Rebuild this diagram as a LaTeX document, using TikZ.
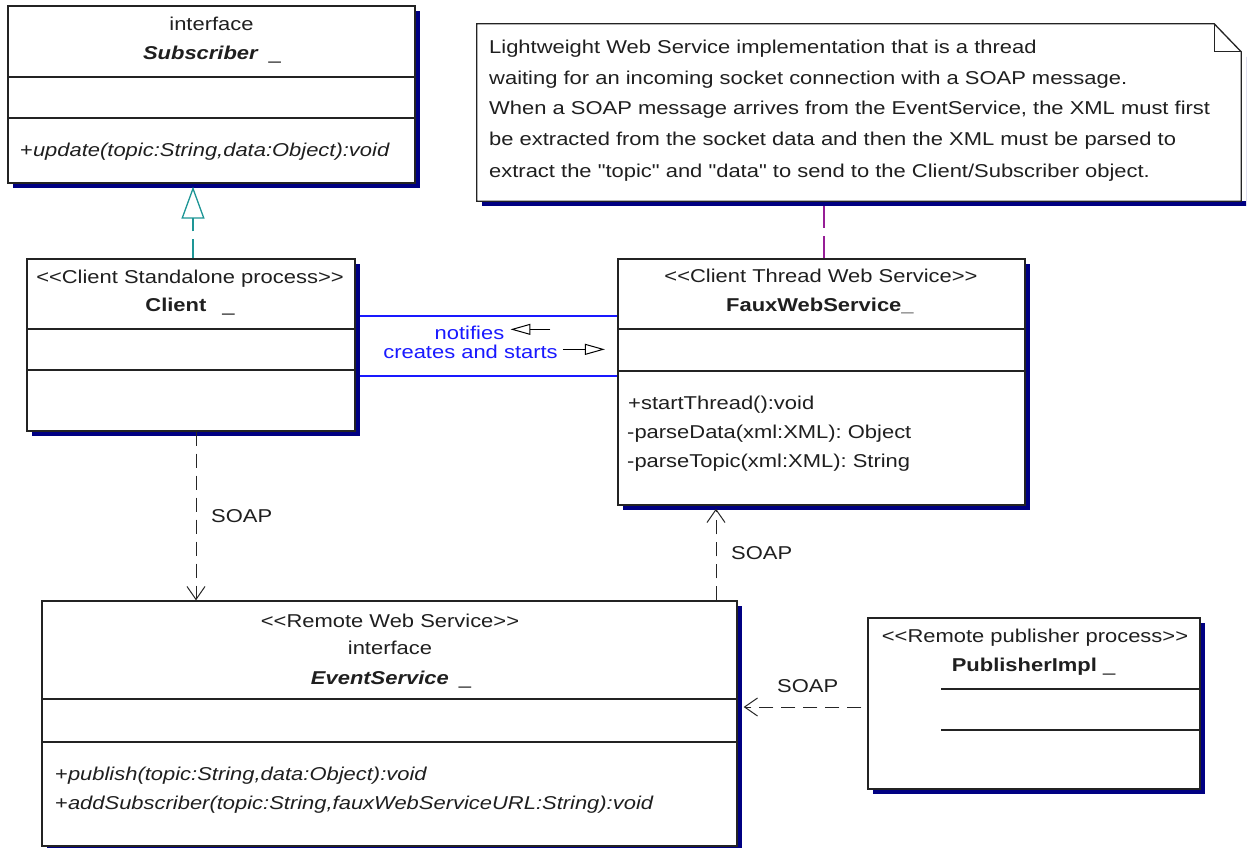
\documentclass[tikz,border=0pt]{standalone}
\usepackage{fontspec}
\setmainfont{Liberation Sans}[FakeStretch=1.18,Ligatures=TeXOff]
\usetikzlibrary{arrows.meta,calc,shadows}
\definecolor{shadowblue}{RGB}{0,0,130}
\definecolor{edgegray}{RGB}{35,35,35}
\definecolor{assocblue}{RGB}{25,25,255}
\definecolor{realteal}{RGB}{30,150,150}
\definecolor{notepurple}{RGB}{150,30,150}
\newcommand{\umlfont}{\fontsize{18.6}{22}\selectfont}
\tikzset{
  umlbox/.style={draw=edgegray, line width=1.3pt, fill=white, inner sep=0pt,
    drop shadow={shadow xshift=5pt, shadow yshift=-5pt, fill=shadowblue, opacity=1}},
  divider/.style={draw=edgegray, line width=1.3pt},
  txt/.style={inner sep=0pt, font=\umlfont, text=black!88, anchor=base},
  txtl/.style={txt, anchor=base west},
  bluetxt/.style={txt, text=assocblue},
  soapdep/.style={draw=black!85, line width=1pt, dash pattern=on 14pt off 8pt,
    -{Straight Barb[length=13pt,width=18pt]}},
  realize/.style={draw=realteal, line width=1.3pt, dash pattern=on 19pt off 8pt,
    -{Triangle[open,length=32pt,width=23pt]}},
  assoc/.style={draw=assocblue, line width=1.3pt},
  notelink/.style={draw=notepurple, line width=1.3pt, dash pattern=on 22pt off 8pt},
  dirarrow/.style={draw=black, line width=1pt, -{Triangle[open,length=20pt,width=11pt]}},
}
\begin{document}
\begin{tikzpicture}[x=1pt,y=-1pt]
\fill[white] (0,0) rectangle (1247,848);
\useasboundingbox (0,0) rectangle (1247,848);

% ---------- Subscriber ----------
\node[umlbox, minimum width=407pt, minimum height=177pt] (sub) at (211.5,94.5) {};
\draw[divider] (sub.west |- 0,77) -- (sub.east |- 0,77);
\draw[divider] (sub.west |- 0,118) -- (sub.east |- 0,118);
\node[txt] (subst) at (211.5,31) {interface};
\node[txt] (subname) at (212,60) {\textbf{\textit{Subscriber}}\hspace{10pt}\_};
\node[txtl] (subop) at (20,157) {+\textit{update(topic:String,data:Object):void}};

% ---------- Client ----------
\node[umlbox, minimum width=328pt, minimum height=172pt] (client) at (191,345) {};
\draw[divider] (client.west |- 0,329) -- (client.east |- 0,329);
\draw[divider] (client.west |- 0,370) -- (client.east |- 0,370);
\node[txt] (clst) at (190,283) {<<Client Standalone process>>};
\node[txt] (clname) at (190,311) {\textbf{Client}\hspace{16pt}\_};

% ---------- FauxWebService ----------
\node[umlbox, minimum width=407pt, minimum height=246pt] (faux) at (821.5,382) {};
\draw[divider] (faux.west |- 0,329) -- (faux.east |- 0,329);
\draw[divider] (faux.west |- 0,371) -- (faux.east |- 0,371);
\node[txt] (faust) at (821,282) {<<Client Thread Web Service>>};
\node[txt] (fauname) at (820,311) {\textbf{FauxWebService\_}};
\node[txtl] (fauop1) at (628,409) {+startThread():void};
\node[txtl] (fauop2) at (627,438) {-parseData(xml:XML): Object};
\node[txtl] (fauop3) at (627,467) {-parseTopic(xml:XML): String};

% ---------- Note ----------
\node[minimum width=764pt, minimum height=177pt, inner sep=0pt] (note) at (859,112.5) {};
\fill[shadowblue] ($(note.north east)+(5,33)$) rectangle ($(note.south east)+(5,5)$);
\fill[shadowblue] ($(note.south west)+(5,0)$) rectangle ($(note.south east)+(5,5)$);
\draw[divider, fill=white] (note.north west) -- ($(note.north east)+(-27,0)$)
  -- ($(note.north east)+(0,28)$) -- (note.south east) -- (note.south west) -- cycle;
\draw[divider] ($(note.north east)+(-27,0)$) -- ($(note.north east)+(-27,28)$)
  -- ($(note.north east)+(0,28)$);
\node[txtl] (n1) at (489,54) {Lightweight Web Service implementation that is a thread};
\node[txtl] (n2) at (489,85) {waiting for an incoming socket connection with a SOAP message.};
\node[txtl] (n3) at (489,115) {When a SOAP message arrives from the EventService, the XML must first};
\node[txtl] (n4) at (489,146) {be extracted from the socket data and then the XML must be parsed to};
\node[txtl] (n5) at (489,177) {extract the "topic" and "data" to send to the Client/Subscriber object.};

% ---------- EventService ----------
\node[umlbox, minimum width=695pt, minimum height=245pt] (event) at (389.5,723.5) {};
\draw[divider] (event.west |- 0,699) -- (event.east |- 0,699);
\draw[divider] (event.west |- 0,742) -- (event.east |- 0,742);
\node[txt] (evst) at (390,627) {<<Remote Web Service>>};
\node[txt] (evif) at (390,654) {interface};
\node[txt] (evname) at (391,684) {\textbf{\textit{EventService}}\hspace{10pt}\_};
\node[txtl] (evop1) at (55,780) {+\textit{publish(topic:String,data:Object):void}};
\node[txtl] (evop2) at (55,809) {+\textit{addSubscriber(topic:String,fauxWebServiceURL:String):void}};

% ---------- PublisherImpl ----------
\node[umlbox, minimum width=332pt, minimum height=171pt] (pub) at (1034,703.5) {};
\draw[divider] (941,689) -- (pub.east |- 0,689);
\draw[divider] (941,730) -- (pub.east |- 0,730);
\node[txt] (pubst) at (1035,642) {<<Remote publisher process>>};
\node[txt] (pubname) at (1033.5,671) {\textbf{PublisherImpl} \_};

% ---------- connectors ----------
\draw[realize] (client.north -| 193,0) -- ($(sub.south -| 193,0)+(0,3)$);
\draw[notelink] ($(note.south -| 824,0)+(0,5)$) -- (faux.north -| 824,0);
\draw[assoc] ($(client.east |- 0,316)+(4,0)$) -- (faux.west |- 0,316);
\draw[assoc] ($(client.east |- 0,376)+(4,0)$) -- (faux.west |- 0,376);
\node[bluetxt] (notif) at (469.5,339) {notifies};
\node[bluetxt] (creat) at (470.5,358) {creates and starts};
\draw[dirarrow] ($(notif.east)+(46,-3)$) -- ($(notif.east)+(6,-3)$);
\draw[dirarrow] ($(creat.east)+(5,-2)$) -- ($(creat.east)+(47,-2)$);

\draw[soapdep] (client.south -| 196,0) -- (event.north -| 196,0);
\node[txtl] (soap1) at (211,522) {SOAP};
\draw[soapdep] (event.north -| 716,0) -- ($(faux.south -| 716,0)+(0,3)$);
\node[txtl] (soap2) at (731,559) {SOAP};
\draw[soapdep] ($(pub.west |- 0,707)+(-6,0)$) -- ($(event.east |- 0,707)+(6,0)$);
\node[txtl] (soap3) at (777,692) {SOAP};
\end{tikzpicture}
\end{document}
